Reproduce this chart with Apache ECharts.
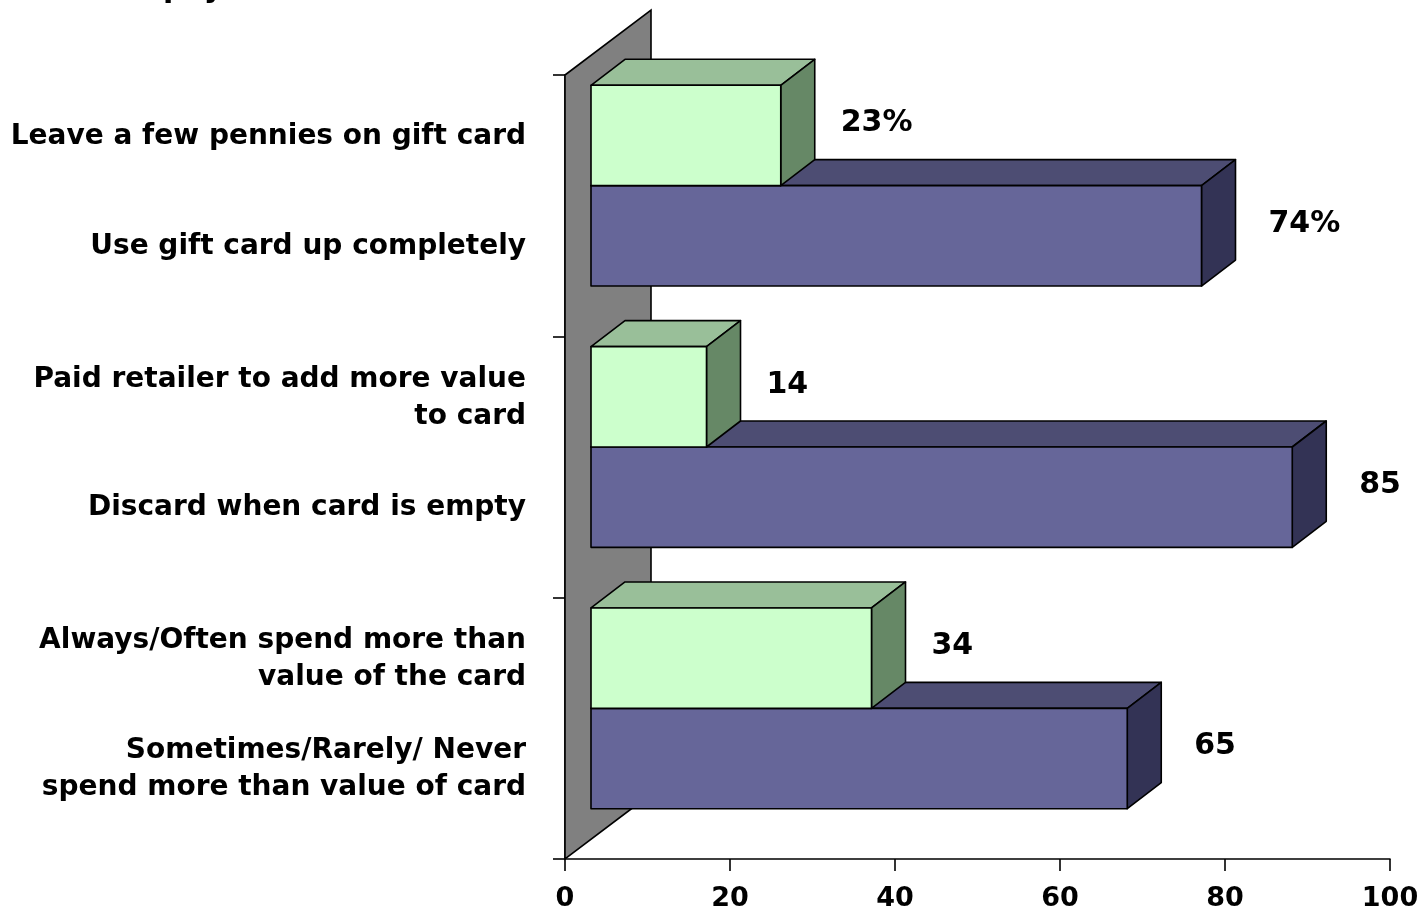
<!DOCTYPE html>
<html>
<head>
<meta charset="utf-8">
<script src="https://cdn.jsdelivr.net/npm/echarts@6/dist/echarts.min.js"></script>
<style>
  html, body { margin: 0; padding: 0; background: #ffffff; }
  #chart { width: 1422px; height: 912px; }
</style>
</head>
<body>
<div id="chart"></div>
<script>
// Gift card behaviour: paired answers per question group
const groups = ['leftover', 'empty card', 'overspend'];
const greenLabels = [
  'Leave a few pennies on gift card',
  'Paid retailer to add more value\nto card',
  'Always/Often spend more than\nvalue of the card'
];
const blueLabels = [
  'Use gift card up completely',
  'Discard when card is empty',
  'Sometimes/Rarely/ Never\nspend more than value of card'
];
const greenValues = [23, 14, 34];
const blueValues = [74, 85, 65];
const valueSuffix = ['%', '', ''];
const xMin = 0, xMax = 100, xStep = 20;

const FONT = '"DejaVu Sans", Verdana, sans-serif';
// 3D projection: bars sit partway into the depth of the back wall
const FRONT = [26, -20];   // shift of the bars' front faces
const DEPTH = [34, -26];   // depth of each bar
const WALL = [86, -65];    // full depth of the wall

const GREEN = { front: '#CCFFCC', top: '#99BF99', side: '#668866', labelDx: 60 };
const BLUE = { front: '#666699', top: '#4D4D73', side: '#333355', labelDx: 67 };

function barRenderer(upper, colors, labels) {
  return function (params, api) {
    const v = api.value(0);
    const ci = api.value(1);
    const c0 = api.coord([0, ci]);
    const c1 = api.coord([v, ci]);
    const band = api.size([0, 1])[1];
    const h = band * 0.384;
    const x0 = c0[0] + FRONT[0];
    const x1 = c1[0] + FRONT[0];
    const y = (upper ? c0[1] - h : c0[1]) + FRONT[1];
    const dx = DEPTH[0], dy = DEPTH[1];
    const lineStyle = { stroke: '#000', lineWidth: 1.6, lineJoin: 'round' };
    const children = [
      { type: 'polygon', shape: { points: [[x0, y], [x0 + dx, y + dy], [x1 + dx, y + dy], [x1, y]] },
        style: Object.assign({ fill: colors.top }, lineStyle) },
      { type: 'polygon', shape: { points: [[x1, y], [x1 + dx, y + dy], [x1 + dx, y + h + dy], [x1, y + h]] },
        style: Object.assign({ fill: colors.side }, lineStyle) },
      { type: 'rect', shape: { x: x0, y: y, width: x1 - x0, height: h },
        style: Object.assign({ fill: colors.front }, lineStyle) },
      { type: 'text', x: x1 + colors.labelDx, y: y + h / 2 - 12,
        style: { text: v + valueSuffix[ci], fill: '#000', font: 'bold 30px ' + FONT,
                 textAlign: 'left', textVerticalAlign: 'middle' } },
      { type: 'text', x: c0[0] - 39, y: y + h / 2 + (upper ? 1 : 11),
        style: { text: labels[ci], fill: '#000', font: 'bold 28px ' + FONT, lineHeight: 37,
                 textAlign: 'right', textVerticalAlign: 'middle' } }
    ];
    return { type: 'group', children: children };
  };
}

const chart = echarts.init(document.getElementById('chart'), null, { renderer: 'canvas' });

chart.setOption({
  backgroundColor: '#ffffff',
  animation: false,
  graphic: [{
    type: 'text', left: 163, top: -26,
    style: { text: 'pay', fill: '#000', font: 'bold 30px ' + FONT }
  }],
  grid: { left: 565, right: 32, top: 75, bottom: 52, containLabel: false },
  xAxis: {
    type: 'value', min: xMin, max: xMax, interval: xStep,
    axisLine: { show: true, lineStyle: { color: '#000', width: 1.6 } },
    axisTick: { show: true, length: 12, lineStyle: { color: '#000', width: 1.6 } },
    axisLabel: { color: '#000', fontFamily: FONT, fontWeight: 'bold', fontSize: 27, margin: 26 },
    splitLine: { show: false }
  },
  yAxis: {
    type: 'category', data: groups, inverse: true,
    axisLine: { show: true, lineStyle: { color: '#000', width: 1.6 } },
    axisTick: { show: true, length: 12, lineStyle: { color: '#000', width: 1.6 } },
    axisLabel: { show: false },
    splitLine: { show: false }
  },
  series: [
    {
      type: 'custom', name: 'wall', z: 1, silent: true,
      data: [[0, 0]],
      encode: { x: 0, y: 1 },
      renderItem: function (params) {
        const cs = params.coordSys;
        const x = cs.x, yTop = cs.y, yBot = cs.y + cs.height;
        return {
          type: 'polygon',
          shape: { points: [[x, yBot], [x, yTop], [x + WALL[0], yTop + WALL[1]], [x + WALL[0], yBot + WALL[1]]] },
          style: { fill: '#808080', stroke: '#000', lineWidth: 1.6 }
        };
      }
    },
    {
      type: 'custom', name: 'blue', z: 2,
      data: blueValues.map((v, i) => [v, i]),
      encode: { x: 0, y: 1 },
      renderItem: barRenderer(false, BLUE, blueLabels)
    },
    {
      type: 'custom', name: 'green', z: 3,
      data: greenValues.map((v, i) => [v, i]),
      encode: { x: 0, y: 1 },
      renderItem: barRenderer(true, GREEN, greenLabels)
    }
  ]
});
</script>
</body>
</html>
